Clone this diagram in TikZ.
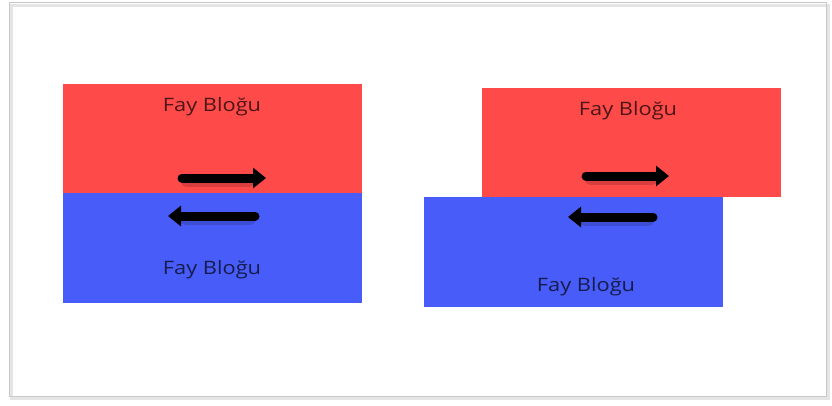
\documentclass[tikz,border=0pt]{standalone}
\usepackage{fontspec}
\setmainfont{Open Sans}
\usetikzlibrary{arrows.meta,calc}
\definecolor{blockred}{RGB}{255,74,74}
\definecolor{blockblue}{RGB}{72,92,250}
\definecolor{framegray}{RGB}{200,200,200}
\begin{document}
\begin{tikzpicture}[x=1pt,y=-1pt,
  redblock/.style={fill=blockred,draw=none},
  blueblock/.style={fill=blockblue,draw=none},
  label/.style={font=\fontsize{18.5}{20}\selectfont,inner sep=0pt,xscale=1.18},
  motion/.style={line width=9pt,black,line cap=round,
    -{Triangle[length=13pt,width=20pt]}},
  shade/.style={line width=10pt,black,opacity=0.15,line cap=round}]
\useasboundingbox (0,0) rectangle (832,405);
\fill[white] (0,0) rectangle (832,405);
% outer frame with a soft shadow
\draw[black!10,line width=3pt] (11,5) rectangle (828,398);
\draw[framegray,line width=1pt] (9,2) rectangle (826,396);

% left pair: blocks aligned
\fill[redblock]  (63,84)  rectangle (362,193);
\fill[blueblock] (63,193) rectangle (362,303);
% right pair: blocks offset along the fault
\fill[redblock]  (482,88)  rectangle (781,197);
\fill[blueblock] (424,197) rectangle (723,307);

\node[label,text=blockred!30!black]  (lt) at (212,107) {Fay Bloğu};
\node[label,text=blockblue!30!black] (lb) at (212,270) {Fay Bloğu};
\node[label,text=blockred!30!black]  (rt) at (628,111) {Fay Bloğu};
\node[label,text=blockblue!30!black] (rb) at (586,287) {Fay Bloğu};

\coordinate (la1) at (182,178); \coordinate (la2) at (266,178);
\coordinate (lb1) at (255,216); \coordinate (lb2) at (168,216);
\coordinate (ra1) at (586,176); \coordinate (ra2) at (669,176);
\coordinate (rb1) at (653,217); \coordinate (rb2) at (568,217);

% each arrow casts a faint shadow just below it
\foreach \a/\b in {la1/la2,lb1/lb2,ra1/ra2,rb1/rb2}{
  \draw[shade] ([yshift=-4pt]$(\a)!0.05!(\b)$) -- ([yshift=-4pt]$(\a)!0.8!(\b)$);
  \draw[motion] (\a) -- (\b);
}
\end{tikzpicture}
\end{document}
